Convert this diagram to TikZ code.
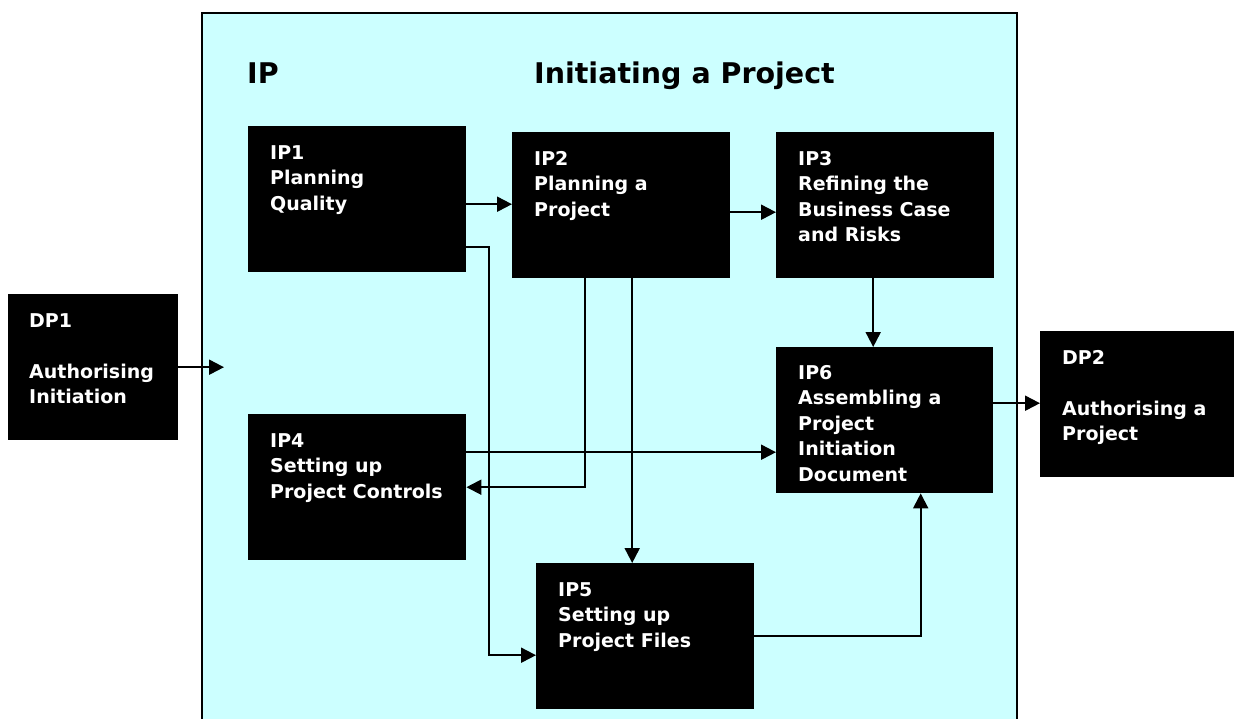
\documentclass[tikz,border=0pt]{standalone}
\usepackage{fontspec}
\setmainfont{DejaVu Sans}
\usepackage{xcolor}
\usepackage{tikz}
\usetikzlibrary{shapes,arrows.meta,positioning}
\definecolor{stagecyan}{RGB}{204, 255, 255}
\tikzstyle{stage} = [rectangle, draw=black, line width=2pt, fill=stagecyan, minimum width=815pt, minimum height=718pt, anchor=north west, inner sep=0pt]
\tikzstyle{proc} = [rectangle, draw=none, fill=black, minimum width=218pt, minimum height=146pt, anchor=north west, inner sep=0pt]
\tikzstyle{proctext} = [draw=none, fill=none, text=white, align=left, anchor=north west, inner sep=0pt, font=\bfseries\fontsize{19}{25.5}\selectfont]
\tikzstyle{titletext} = [draw=none, fill=none, text=black, anchor=base west, inner sep=0pt, font=\bfseries\fontsize{28.5}{34}\selectfont]
\tikzstyle{flow} = [draw, line width=2pt, -{Triangle[length=15pt, width=15pt]}]

\begin{document}
\begin{tikzpicture}[x=1pt, y=-1pt]
\useasboundingbox (0,0) rectangle (1234,719);

% stage frame =============================
\node[stage] (ipframe) at (201,12) {};
\node[titletext] (iptag) at (247,84) {IP};
\node[titletext] (iptitle) at (534,84) {Initiating a Project};

% processes =============================
\node[proc, minimum width=170pt] (dp1) at (8,294) {};
\node[proc] (ip1) at (248,126) {};
\node[proc] (ip2) at (512,132) {};
\node[proc] (ip3) at (776,132) {};
\node[proc] (ip4) at (248,414) {};
\node[proc] (ip5) at (536,563) {};
\node[proc, minimum width=217pt] (ip6) at (776,347) {};
\node[proc, minimum width=200pt] (dp2) at (1040,331) {};

% labels
\node[proctext] (dp1t) at ([shift={(21,19)}]dp1.north west) {DP1\\\mbox{}\\Authorising\\Initiation};
\node[proctext] (ip1t) at ([shift={(22,19)}]ip1.north west) {IP1\\Planning\\Quality};
\node[proctext] (ip2t) at ([shift={(22,19)}]ip2.north west) {IP2\\Planning a\\Project};
\node[proctext] (ip3t) at ([shift={(22,19)}]ip3.north west) {IP3\\Refining the\\Business Case\\and Risks};
\node[proctext] (ip4t) at ([shift={(22,19)}]ip4.north west) {IP4\\Setting up\\Project Controls};
\node[proctext] (ip5t) at ([shift={(22,19)}]ip5.north west) {IP5\\Setting up\\Project Files};
\node[proctext] (ip6t) at ([shift={(22,18)}]ip6.north west) {IP6\\Assembling a\\Project\\Initiation\\Document};
\node[proctext] (dp2t) at ([shift={(22,19)}]dp2.north west) {DP2\\\mbox{}\\Authorising a\\Project};

% edges
\draw[flow] (dp1.east) -- ([xshift=23pt]dp1.east -| ipframe.west);
\draw[flow] ([yshift=-5pt]ip1.east) -- ([yshift=-5pt]ip1.east -| ip2.west);
\draw[flow] ([yshift=-7pt]ip2.east) -- ([yshift=-7pt]ip2.east -| ip3.west);
\draw[flow] ([yshift=-48pt]ip1.east) -- ++(23,0) |- ([yshift=-19pt]ip5.west);
\draw[flow] ([xshift=-36pt]ip2.south) |- (ip4.east);
\draw[flow] ([xshift=11pt]ip2.south) -- ([xshift=11pt]ip2.south |- ip5.north);
\draw[flow] ([xshift=-12pt]ip3.south) -- ([xshift=-12pt]ip3.south |- ip6.north);
\draw[flow] ([yshift=35pt]ip4.east) -- ([yshift=35pt]ip4.east -| ip6.west);
\draw[flow] (ip5.east) -| ([xshift=36pt]ip6.south);
\draw[flow] ([yshift=17pt]ip6.east) -- ([yshift=17pt]ip6.east -| dp2.west);

\end{tikzpicture}
\end{document}
